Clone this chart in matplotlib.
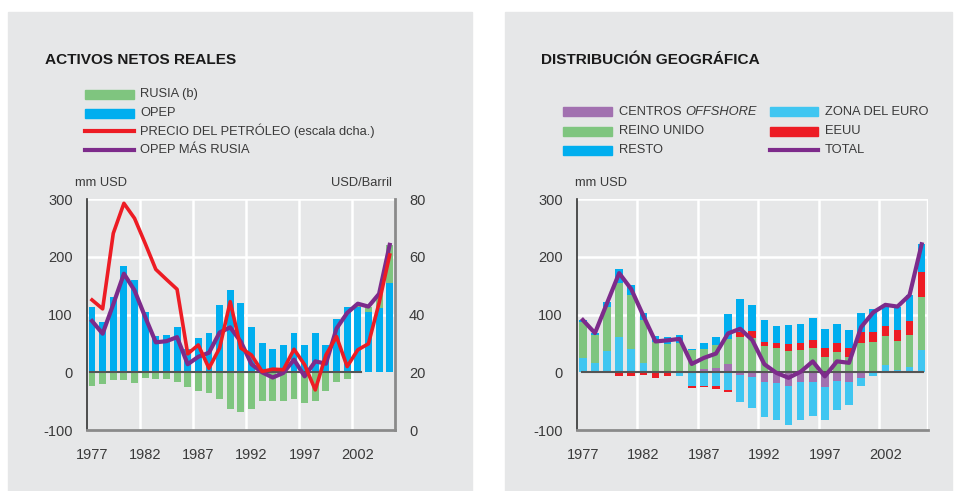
import matplotlib
matplotlib.use("Agg")
import matplotlib.pyplot as plt
from matplotlib.patches import Rectangle
from matplotlib.lines import Line2D
import numpy as np

plt.rcParams['font.family'] = ['Liberation Sans', 'DejaVu Sans']
plt.rcParams['axes.unicode_minus'] = False

years = list(range(1977, 2006))
tick_years = [1977, 1982, 1987, 1992, 1997, 2002]

# left panel: activos netos reales (mm USD) and oil price (USD/barril)
opep = [113, 88, 131, 184, 160, 105, 63, 65, 78, 40, 60, 69, 116, 142, 121, 78,
        50, 40, 48, 69, 47, 69, 48, 92, 114, 114, 104, 112, 155]
rusia = [-24, -21, -13, -13, -18, -9, -11, -11, -17, -26, -33, -35, -47, -64, -68, -64,
         -50, -49, -49, -47, -54, -50, -33, -16, -11, 5, 10, 24, 66]
petroleo = [45.1, 42.0, 68.2, 78.6, 73.4, 64.7, 55.7, 52.2, 48.8, 26.4, 29.5, 21.4, 28.4,
            44.5, 28.4, 26.0, 20.3, 21.1, 20.9, 28.0, 22.6, 13.9, 26.0, 32.4, 22.0, 27.8,
            29.9, 44.0, 60.7]

# right panel: distribucion geografica (mm USD)
offshore = [0, 0, 0, 0, 0, 0, 0, 0, 0, 3, 6, 8, 15, -5.5, -8, -16.5, -18, -23, -17.5, -16,
            -26, -15, -17.5, -9, -1, 2.5, 2.5, 2, 1]
euro = [25.7, 16.5, 37, 61.5, 40.7, 16.5, 0, -2, -7, -23, -23, -24, -30, -45.5, -53, -60.5,
        -64, -69, -65.5, -59, -56, -50, -39.5, -15.5, -5, 10.5, 2, 6.4, 38]
reino_unido = [62, 47.5, 76, 93.5, 93, 74.5, 53, 49, 51, 36.5, 34, 39, 42, 61.5, 60, 46,
               42.5, 37.5, 39, 42.4, 27, 35.5, 27, 51, 53, 50, 50, 56.5, 92]
eeuu = [0, 0, -2, -7, -7, -5, -9.5, -4, 0, -3.5, -3, -5, -3.5, 9, 11, 7, 8.5, 12, 12, 13.5,
        15, 15.5, 15, 19, 17, 17.5, 19, 24, 43]
resto = [3, 4, 9, 24, 17.5, 12, 10, 12.5, 14, 1.5, 11, 14.5, 44, 56, 46, 38, 30, 33, 33, 38,
         33, 33, 31.5, 33, 40, 36.5, 40.5, 45, 48]

GREY = '#e6e7e8'
GREEN = '#7fc57f'
BLUE = '#00aeef'
RED = '#ed1c24'
PURPLE = '#7d2b8b'
LIGHTBLUE = '#40c6f1'
OFFPURPLE = '#a271b0'
TXT = '#3a3a3a'

W, H = 961, 491
fig = plt.figure(figsize=(W / 100, H / 100), dpi=100)


def fx(px):
    return px / W


def fy(py):
    return 1 - py / H


# panel backgrounds
fig.patches.append(Rectangle((fx(8), 0), fx(464), fy(12), transform=fig.transFigure,
                             color=GREY, zorder=-10))
fig.patches.append(Rectangle((fx(505), 0), fx(447), fy(12), transform=fig.transFigure,
                             color=GREY, zorder=-10))

x = np.arange(len(years)) + 0.5
gridx = [5, 10, 15, 20, 25]


def style_axes(ax):
    ax.set_facecolor(GREY)
    ax.set_xlim(0, 29)
    ax.set_ylim(-100, 300)
    ax.set_yticks([-100, 0, 100, 200, 300])
    ax.set_xticks([tick_years.index(t) * 5 + 0.5 for t in tick_years])
    ax.set_xticklabels([str(t) for t in tick_years])
    ax.tick_params(length=0, labelsize=10.5, colors=TXT)
    ax.tick_params(axis='y', pad=10)
    ax.tick_params(axis='x', pad=13)
    for gx in gridx:
        ax.axvline(gx, color='white', lw=1.8, zorder=0.5)
    for gy in [100, 200, 300]:
        ax.axhline(gy, color='white', lw=1.8, zorder=0.5)
    ax.spines['top'].set_visible(False)
    ax.spines['right'].set_visible(False)
    ax.spines['left'].set_color('#333333')
    ax.spines['left'].set_linewidth(1.2)
    ax.spines['bottom'].set_color('#8a8a8a')
    ax.spines['bottom'].set_linewidth(2)


# ---- left panel ----
ax1 = fig.add_axes([fx(86.7), fy(430), fx(308.3), fy(199.3) - fy(430)])
style_axes(ax1)
opep_a = np.array(opep)
rusia_a = np.array(rusia)
ax1.bar(x, opep_a, width=0.65, color=BLUE, zorder=2)
rus_bottom = np.where(rusia_a > 0, opep_a, 0)
ax1.bar(x, rusia_a, bottom=rus_bottom, width=0.65, color=GREEN, zorder=2)
ax1.plot([0.3, 25.8], [0, 0], color='#555555', lw=1.5, zorder=3)
ax1.plot(x, opep_a + rusia_a, color=PURPLE, lw=3, zorder=4)

ax1b = ax1.twinx()
ax1b.set_ylim(0, 80)
ax1b.set_yticks([0, 20, 40, 60, 80])
ax1b.tick_params(length=0, labelsize=10.5, colors=TXT, pad=10)
ax1b.plot(x, petroleo, color=RED, lw=2.6, zorder=3)
for s in ['top', 'left', 'bottom']:
    ax1b.spines[s].set_visible(False)
ax1b.spines['right'].set_color('#8a8a8a')
ax1b.spines['right'].set_linewidth(2)

# ---- right panel ----
ax2 = fig.add_axes([fx(576.8), fy(430), fx(350.9), fy(199.3) - fy(430)])
style_axes(ax2)
ax2.axvline(29, color='white', lw=2.5, zorder=0.5)
series = [(offshore, OFFPURPLE), (euro, LIGHTBLUE), (reino_unido, GREEN),
          (eeuu, RED), (resto, BLUE)]
pos = np.zeros(len(years))
neg = np.zeros(len(years))
for vals, col in series:
    v = np.array(vals, dtype=float)
    bottom = np.where(v >= 0, pos, neg)
    ax2.bar(x, v, bottom=bottom, width=0.63, color=col, zorder=2)
    pos = pos + np.clip(v, 0, None)
    neg = neg + np.clip(v, None, 0)
total = pos + neg
ax2.plot([0.4, 28.6], [0, 0], color='#555555', lw=1.5, zorder=3)
ax2.plot(x, total, color=PURPLE, lw=3, zorder=4)

# ---- titles, units ----
fig.text(fx(45), fy(60), 'ACTIVOS NETOS REALES', fontsize=11.1, fontweight='bold',
         color='#1a1a1a', va='center')
fig.text(fx(541), fy(60), 'DISTRIBUCIÓN GEOGRÁFICA', fontsize=11.1, fontweight='bold',
         color='#1a1a1a', va='center')
fig.text(fx(75), fy(183), 'mm USD', fontsize=9.3, color=TXT, va='center')
fig.text(fx(392), fy(183), 'USD/Barril', fontsize=9.3, color=TXT, va='center', ha='right')
fig.text(fx(575), fy(183), 'mm USD', fontsize=9.3, color=TXT, va='center')


# ---- legends ----
def legend_item(x0, x1, y, label, color, kind, tx):
    if kind == 'bar':
        fig.patches.append(Rectangle((fx(x0), fy(y + 4.5)), fx(x1 - x0), fy(0) - fy(9),
                                     transform=fig.transFigure, color=color))
    else:
        fig.lines.append(Line2D([fx(x0), fx(x1)], [fy(y), fy(y)], transform=fig.transFigure,
                                color=color, lw=3))
    if isinstance(label, tuple):
        t = fig.text(fx(tx), fy(y), label[0], fontsize=9.3, color=TXT, va='center')
        fig.canvas.draw()
        bb = t.get_window_extent()
        fig.text(bb.x1 / W, fy(y), label[1], fontsize=9.3, color=TXT, va='center',
                 style='italic')
    else:
        fig.text(fx(tx), fy(y), label, fontsize=9.3, color=TXT, va='center')


legend_item(85, 134, 94, 'RUSIA (b)', GREEN, 'bar', 140)
legend_item(85, 134, 113, 'OPEP', BLUE, 'bar', 140)
legend_item(85, 134, 131, 'PRECIO DEL PETRÓLEO (escala dcha.)', RED, 'line', 140)
legend_item(85, 134, 150, 'OPEP MÁS RUSIA', PURPLE, 'line', 140)

legend_item(563, 612, 112, ('CENTROS ', 'OFFSHORE'), OFFPURPLE, 'bar', 619)
legend_item(563, 612, 131, 'REINO UNIDO', GREEN, 'bar', 619)
legend_item(563, 612, 150, 'RESTO', BLUE, 'bar', 619)
legend_item(770, 818, 112, 'ZONA DEL EURO', LIGHTBLUE, 'bar', 825)
legend_item(770, 818, 131, 'EEUU', RED, 'bar', 825)
legend_item(770, 818, 150, 'TOTAL', PURPLE, 'line', 825)

fig.savefig('out.png', dpi=100, facecolor='white')
